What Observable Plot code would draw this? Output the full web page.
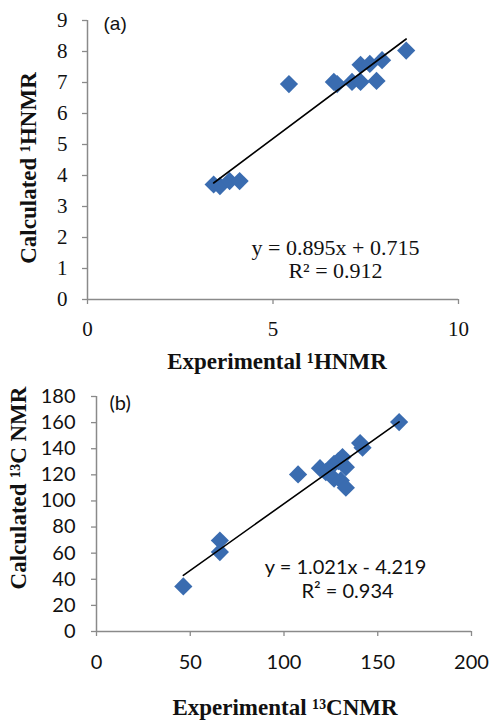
<!DOCTYPE html>
<html>
<head>
<meta charset="utf-8">
<script src="https://cdn.jsdelivr.net/npm/d3@7"></script>
<script src="https://cdn.jsdelivr.net/npm/@observablehq/plot@0.6"></script>
<style>
  html, body { margin: 0; padding: 0; background: #fff; }
  #chart { width: 490px; }
  #chart svg { display: block; }
</style>
</head>
<body>
<div id="chart"></div>
<script>
// ---- Panel (a): 1H NMR ----
const hExperimental = [3.40, 3.57, 3.83, 4.10, 5.43, 6.64, 6.73, 7.13, 7.36, 7.36, 7.61, 7.79, 7.94, 8.59];
const hCalculated   = [3.71, 3.66, 3.82, 3.82, 6.95, 7.02, 6.95, 7.02, 7.02, 7.57, 7.60, 7.05, 7.72, 8.03];
const hTicksX = [0, 5, 10];
const hTicksY = [0, 1, 2, 3, 4, 5, 6, 7, 8, 9];
const hSlope = 0.895, hIntercept = 0.715;
const hEquation = "y = 0.895x + 0.715";
const hR2 = "R² = 0.912";

// ---- Panel (b): 13C NMR ----
const cExperimental = [46.3, 65.8, 65.8, 107.5, 119.2, 122.3, 126.7, 126.7, 129.0, 131.2, 133.0, 130.3, 133.0, 140.6, 141.9, 161.4];
const cCalculated   = [34.5, 69.7, 60.8, 120.3, 125.1, 122.0, 128.5, 117.0, 130.5, 133.6, 125.9, 115.7, 110.1, 144.3, 140.8, 160.4];
const cTicksX = [0, 50, 100, 150, 200];
const cTicksY = [0, 20, 40, 60, 80, 100, 120, 140, 160, 180];
const cSlope = 1.021, cIntercept = -4.219;
const cEquation = "y = 1.021x - 4.219";
const cR2 = "R² = 0.934";

const AXIS = "#8a8a8a";
const BLUE = "#3a6cb0";
const SERIF = "'Liberation Serif', 'Times New Roman', Times, serif";
const SANS = "Lato, sans-serif";
const ARIAL = "'Liberation Sans', Arial, sans-serif";

function fitLine(xs, slope, intercept) {
  const [x0, x1] = d3.extent(xs);
  return [x0, x1].map(x => ({x, y: slope * x + intercept}));
}

const plotA = Plot.plot({
  width: 490, height: 370,
  marginTop: 20, marginBottom: 71, marginLeft: 87, marginRight: 32,
  style: {background: "#fff", overflow: "visible", fontFamily: SERIF},
  x: {domain: [0, 10]},
  y: {domain: [0, 9]},
  marks: [
    Plot.axisX({ticks: hTicksX, tickSize: 5, tickPadding: 17, stroke: AXIS, strokeWidth: 1.3,
                fill: "#111", fontSize: 21, fontFamily: SERIF, label: null}),
    Plot.axisY({ticks: hTicksY, tickSize: 5, tickPadding: 15, stroke: AXIS, strokeWidth: 1.3,
                fill: "#111", fontSize: 21, fontFamily: SERIF, label: null}),
    Plot.ruleX([0], {stroke: AXIS, strokeWidth: 1.5}),
    Plot.ruleY([0], {stroke: AXIS, strokeWidth: 1.5}),
    Plot.dot(hExperimental.map((x, i) => ({x, y: hCalculated[i]})),
             {x: "x", y: "y", symbol: "diamond2", r: 8.2, fill: BLUE}),
    Plot.line(fitLine(hExperimental, hSlope, hIntercept), {x: "x", y: "y", stroke: "#000", strokeWidth: 1.6}),
    Plot.text(["(a)"], {frameAnchor: "top-left", dx: 16, dy: 3, textAnchor: "start", lineAnchor: "middle",
                        fontSize: 19, fontFamily: ARIAL, fill: "#111"}),
    Plot.text([hEquation], {frameAnchor: "top-left", dx: 248, dy: 227, textAnchor: "middle", lineAnchor: "middle",
                        fontSize: 22, fontFamily: SERIF, fill: "#111"}),
    Plot.text([hR2], {frameAnchor: "top-left", dx: 248, dy: 250, textAnchor: "middle", lineAnchor: "middle",
                        fontSize: 22, fontFamily: SERIF, fill: "#111"}),
    Plot.text(["Experimental ¹HNMR"], {frameAnchor: "bottom", dx: 4, dy: 62, textAnchor: "middle", lineAnchor: "middle",
                        fontSize: 23, fontWeight: "bold", fontFamily: SERIF, fill: "#111"}),
    Plot.text(["Calculated ¹HNMR"], {frameAnchor: "left", dx: -59, dy: 8, rotate: -90, textAnchor: "middle",
                        lineAnchor: "middle", fontSize: 23, fontWeight: "bold", fontFamily: SERIF, fill: "#111"})
  ]
});

const plotB = Plot.plot({
  width: 490, height: 353,
  marginTop: 26, marginBottom: 92, marginLeft: 96, marginRight: 19,
  style: {background: "#fff", overflow: "visible", fontFamily: SANS},
  x: {domain: [0, 200]},
  y: {domain: [0, 180]},
  marks: [
    Plot.axisX({ticks: cTicksX, tickSize: 5, tickPadding: 18, stroke: AXIS, strokeWidth: 1.3,
                fill: "#111", fontSize: 20, fontFamily: SANS, label: null}),
    Plot.axisY({ticks: cTicksY, tickSize: 5, tickPadding: 16, stroke: AXIS, strokeWidth: 1.3,
                fill: "#111", fontSize: 20, fontFamily: SANS, label: null}),
    Plot.ruleX([0], {stroke: AXIS, strokeWidth: 1.5}),
    Plot.ruleY([0], {stroke: AXIS, strokeWidth: 1.5}),
    Plot.dot(cExperimental.map((x, i) => ({x, y: cCalculated[i]})),
             {x: "x", y: "y", symbol: "diamond2", r: 8.2, fill: BLUE}),
    Plot.line(fitLine(cExperimental, cSlope, cIntercept), {x: "x", y: "y", stroke: "#000", strokeWidth: 1.6}),
    Plot.text(["(b)"], {frameAnchor: "top-left", dx: 13, dy: 7, textAnchor: "start", lineAnchor: "middle",
                        fontSize: 20, fontFamily: SANS, fill: "#111"}),
    Plot.text([cEquation], {frameAnchor: "top-left", dx: 249, dy: 171, textAnchor: "middle", lineAnchor: "middle",
                        fontSize: 20, fontFamily: SANS, fill: "#111"}),
    Plot.text([cR2], {frameAnchor: "top-left", dx: 251, dy: 195, textAnchor: "middle", lineAnchor: "middle",
                        fontSize: 20, fontFamily: SANS, fill: "#111"}),
    Plot.text(["Experimental ¹³CNMR"], {frameAnchor: "bottom", dx: 1, dy: 76, textAnchor: "middle", lineAnchor: "middle",
                        fontSize: 23, fontWeight: "bold", fontFamily: SERIF, fill: "#111"}),
    Plot.text(["Calculated ¹³C NMR"], {frameAnchor: "left", dx: -78, dy: -26, rotate: -90, textAnchor: "middle",
                        lineAnchor: "middle", fontSize: 23, fontWeight: "bold", fontFamily: SERIF, fill: "#111"})
  ]
});

document.getElementById("chart").append(plotA, plotB);
</script>
</body>
</html>
